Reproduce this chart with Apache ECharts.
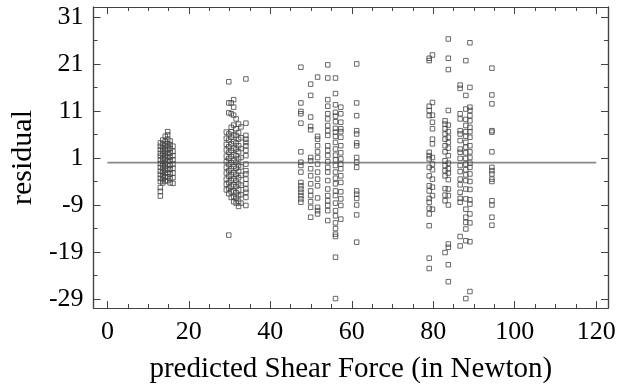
<!DOCTYPE html>
<html>
<head>
<meta charset="utf-8">
<script src="https://cdn.jsdelivr.net/npm/echarts@6/dist/echarts.min.js"></script>
<style>
  html, body { margin: 0; padding: 0; background: #fff; }
  #chart { width: 620px; height: 390px; }
</style>
</head>
<body>
<div id="chart"></div>
<script>
// x position of each vertical column of points (predicted force, N)
const columnX = [
  13.0, 13.6, 14.2, 14.8, 15.4, 16.1,
  29.2, 29.8, 30.4, 31.0, 31.6, 32.2, 32.8, 34.0,
  47.5, 49.9, 51.6, 54.1, 56.0, 57.3, 61.2,
  79.0, 79.8, 82.9, 83.7, 86.6, 88.0, 89.0, 94.4
];

// residuals, one list per column above
const columnResiduals = [
  [4.2, 3.5, 2.8, 2.0, 1.4, 0.6, -0.2, -1.0, -1.8, -2.5, -3.3, -4.0, -5.3, -6.1, -7.1],
  [4.8, 4.0, 3.2, 2.5, 1.8, 1.0, 0.3, -0.5, -1.2, -2.0, -2.8, -3.6, -4.3],
  [5.6, 4.5, 3.7, 2.9, 2.2, 1.5, 0.7, -0.1, -0.8, -1.6, -2.3, -3.1, -3.9],
  [6.6, 5.9, 5.0, 4.1, 3.4, 2.6, 1.9, 1.1, 0.4, -0.4, -1.3, -2.1, -3.0, -3.8],
  [4.6, 3.8, 3.0, 2.1, 1.2, 0.5, -0.6, -1.4, -2.4, -3.4, -4.3],
  [3.5, 2.4, 1.5, 0.6, -0.3, -1.2, -2.2, -3.2, -4.4],
  [6.5, 5.2, 3.9, 2.7, 1.4, 0.2, -1.0, -2.2, -3.5, -4.6, -5.8],
  [17.2, 12.7, 10.6, 6.1, 4.8, 3.4, 2.2, 0.9, -0.4, -1.7, -2.9, -4.2, -5.4, -6.6, -15.4],
  [12.7, 10.4, 7.5, 6.6, 5.4, 4.0, 2.6, 1.3, 0.0, -1.3, -2.6, -3.8, -5.0, -6.2, -7.4],
  [13.4, 11.8, 10.1, 8.0, 5.9, 4.5, 3.1, 1.7, 0.5, -0.8, -2.1, -3.4, -4.7, -6.0, -7.2, -8.3],
  [9.3, 7.2, 5.8, 4.2, 2.9, 1.5, 0.1, -1.2, -2.5, -3.8, -5.1, -6.4, -7.6, -8.6],
  [8.2, 6.4, 5.0, 3.6, 2.3, 0.8, -0.6, -1.9, -3.2, -4.5, -5.8, -7.0, -8.2, -9.3],
  [7.6, 5.3, 3.0, 1.1, -0.9, -2.7, -4.8, -6.8, -8.6],
  [17.8, 8.4, 5.8, 5.0, 4.3, 3.6, 2.6, 1.5, -0.3, -1.7, -2.4, -3.5, -4.5, -5.6, -6.3, -7.4, -9.1],
  [20.3, 12.7, 10.9, 10.4, 8.4, 2.3, 0.1, -0.6, -2.0, -4.2, -4.9, -5.6, -6.3, -7.0, -7.7, -8.4],
  [16.7, 14.3, 9.7, 7.7, 7.0, 1.1, 0.4, -1.3, -2.8, -4.5, -6.0, -7.0, -8.3, -9.5, -11.6],
  [18.2, 5.6, 5.0, 3.6, 2.3, 1.1, -0.3, -2.0, -3.5, -4.9, -7.5, -9.5, -10.2, -10.9],
  [20.8, 18.0, 13.4, 12.0, 10.4, 9.3, 7.9, 6.8, 5.8, 3.6, 2.6, 1.5, 0.2, -1.0, -2.0, -3.8, -5.6, -7.0, -8.1, -9.1, -10.2, -12.3],
  [18.0, 14.7, 12.3, 10.7, 9.9, 8.7, 7.3, 6.5, 5.6, 4.3, 2.9, 1.6, 0.6, -0.6, -2.0, -3.3, -4.5, -6.0, -7.0, -8.6, -10.2, -11.3, -12.8, -14.0, -15.2, -15.7, -20.1, -28.9],
  [11.8, 10.4, 8.6, 7.2, 6.6, 5.4, 3.6, 2.1, 0.8, -0.3, -1.3, -2.8, -4.2, -6.2, -7.7, -9.1, -12.0],
  [21.0, 12.7, 10.0, 6.8, 6.1, 4.2, 3.6, 1.1, 0.1, -1.0, -6.0, -6.7, -7.6, -9.0, -11.1, -16.9],
  [22.2, 21.7, 12.0, 11.1, 10.0, 2.2, 1.5, 0.8, -1.0, -2.8, -4.9, -6.0, -7.6, -8.4, -9.7, -10.9, -13.4, -20.3, -22.5],
  [22.9, 12.8, 10.1, 8.6, 7.2, 5.0, 4.0, 1.1, -0.3, -1.5, -3.5, -5.2, -7.0, -9.9],
  [8.9, 8.2, 7.2, 6.1, 5.0, 3.6, 2.3, 0.4, -0.6, -1.7, -2.8, -5.5, -6.9, -8.1, -19.1],
  [26.3, 22.2, 19.8, 11.1, 8.0, 6.6, 5.4, 4.3, 3.1, 1.5, -0.1, -1.3, -2.2, -3.6, -5.6, -7.0, -9.0, -17.3, -18.0, -21.7, -25.3],
  [16.5, 15.8, 10.4, 9.3, 6.8, 6.1, 4.7, 2.9, 2.2, 0.9, -0.6, -1.9, -3.5, -4.7, -6.3, -7.6, -8.4, -15.7, -17.7],
  [21.7, 14.3, 11.4, 9.2, 7.9, 6.6, 5.6, 4.3, 3.3, 2.1, 0.9, -0.3, -1.5, -2.6, -3.8, -5.6, -7.7, -9.9, -11.6, -12.7, -14.1, -16.6, -28.9],
  [25.5, 16.0, 11.8, 11.1, 10.0, 8.9, 7.5, 6.6, 5.4, 3.6, 2.3, 1.1, -0.1, -1.0, -2.4, -4.0, -5.7, -7.9, -8.8, -10.9, -12.8, -16.8, -27.4],
  [20.1, 14.4, 12.5, 6.8, 6.5, 2.3, -1.0, -1.7, -2.4, -3.5, -4.0, -8.1, -9.0, -11.6, -13.3]
];

const zeroLine = [[0, 0], [120, 0]];

const xMajor = [0, 20, 40, 60, 80, 100, 120];
const xMinor = [5, 10, 15, 25, 30, 35, 45, 50, 55, 65, 70, 75, 85, 90, 95, 105, 110, 115];
const yMajor = [-29, -19, -9, 1, 11, 21, 31];
const yMinor = [-24, -14, -4, 6, 16, 26];

const points = [];
columnX.forEach((x, i) => {
  columnResiduals[i].forEach(r => points.push([x, r]));
});

const chart = echarts.init(document.getElementById("chart"));

const font = "Liberation Serif";
const frameColor = "#444";
const X_MIN = -3.4, X_MAX = 122.9;
const Y_MIN = -30.9, Y_MAX = 33.1;

const xAxisFor = (position, ticks, len, labels) => ({
  type: "value",
  position: position,
  min: X_MIN,
  max: X_MAX,
  axisLine: { show: true, onZero: false, lineStyle: { color: frameColor, width: 1.2 } },
  axisTick: { show: true, inside: true, length: len, customValues: ticks, lineStyle: { color: frameColor } },
  axisLabel: labels
    ? { show: true, customValues: ticks, color: "#000", fontFamily: font, fontSize: 26, margin: 11 }
    : { show: false },
  splitLine: { show: false }
});

const yAxisFor = (position, ticks, len, labels) => ({
  type: "value",
  position: position,
  min: Y_MIN,
  max: Y_MAX,
  axisLine: { show: true, onZero: false, lineStyle: { color: frameColor, width: 1.2 } },
  axisTick: { show: true, inside: true, length: len, customValues: ticks, lineStyle: { color: frameColor } },
  axisLabel: labels
    ? { show: true, customValues: ticks, color: "#000", fontFamily: font, fontSize: 26, margin: 10 }
    : { show: false },
  splitLine: { show: false }
});

const xAxes = [
  xAxisFor("bottom", xMajor, 7, true),
  xAxisFor("bottom", xMinor, 4, false),
  xAxisFor("top", xMajor, 7, false),
  xAxisFor("top", xMinor, 4, false)
];
xAxes[0].name = "predicted Shear Force (in Newton)";
xAxes[0].nameLocation = "middle";
xAxes[0].nameGap = 47;
xAxes[0].nameTextStyle = { color: "#000", fontFamily: font, fontSize: 29 };

const yAxes = [
  yAxisFor("left", yMajor, 7, true),
  yAxisFor("left", yMinor, 4, false),
  yAxisFor("right", yMajor, 7, false),
  yAxisFor("right", yMinor, 4, false)
];
yAxes[0].name = "residual";
yAxes[0].nameLocation = "middle";
yAxes[0].nameGap = 50;
yAxes[0].nameTextStyle = { color: "#000", fontFamily: font, fontSize: 30 };

const option = {
  animation: false,
  backgroundColor: "#fff",
  grid: { left: 91, right: 12, top: 7, bottom: 82, containLabel: false },
  xAxis: xAxes,
  yAxis: yAxes,
  series: [
    {
      type: "line",
      data: zeroLine,
      symbol: "none",
      lineStyle: { color: "#888", width: 1.8 },
      z: 1
    },
    {
      type: "scatter",
      data: points,
      symbol: "rect",
      symbolSize: 4.5,
      itemStyle: { color: "rgba(255,255,255,0)", borderColor: "#444", borderWidth: 1 },
      z: 2
    }
  ]
};

chart.setOption(option);
</script>
</body>
</html>
